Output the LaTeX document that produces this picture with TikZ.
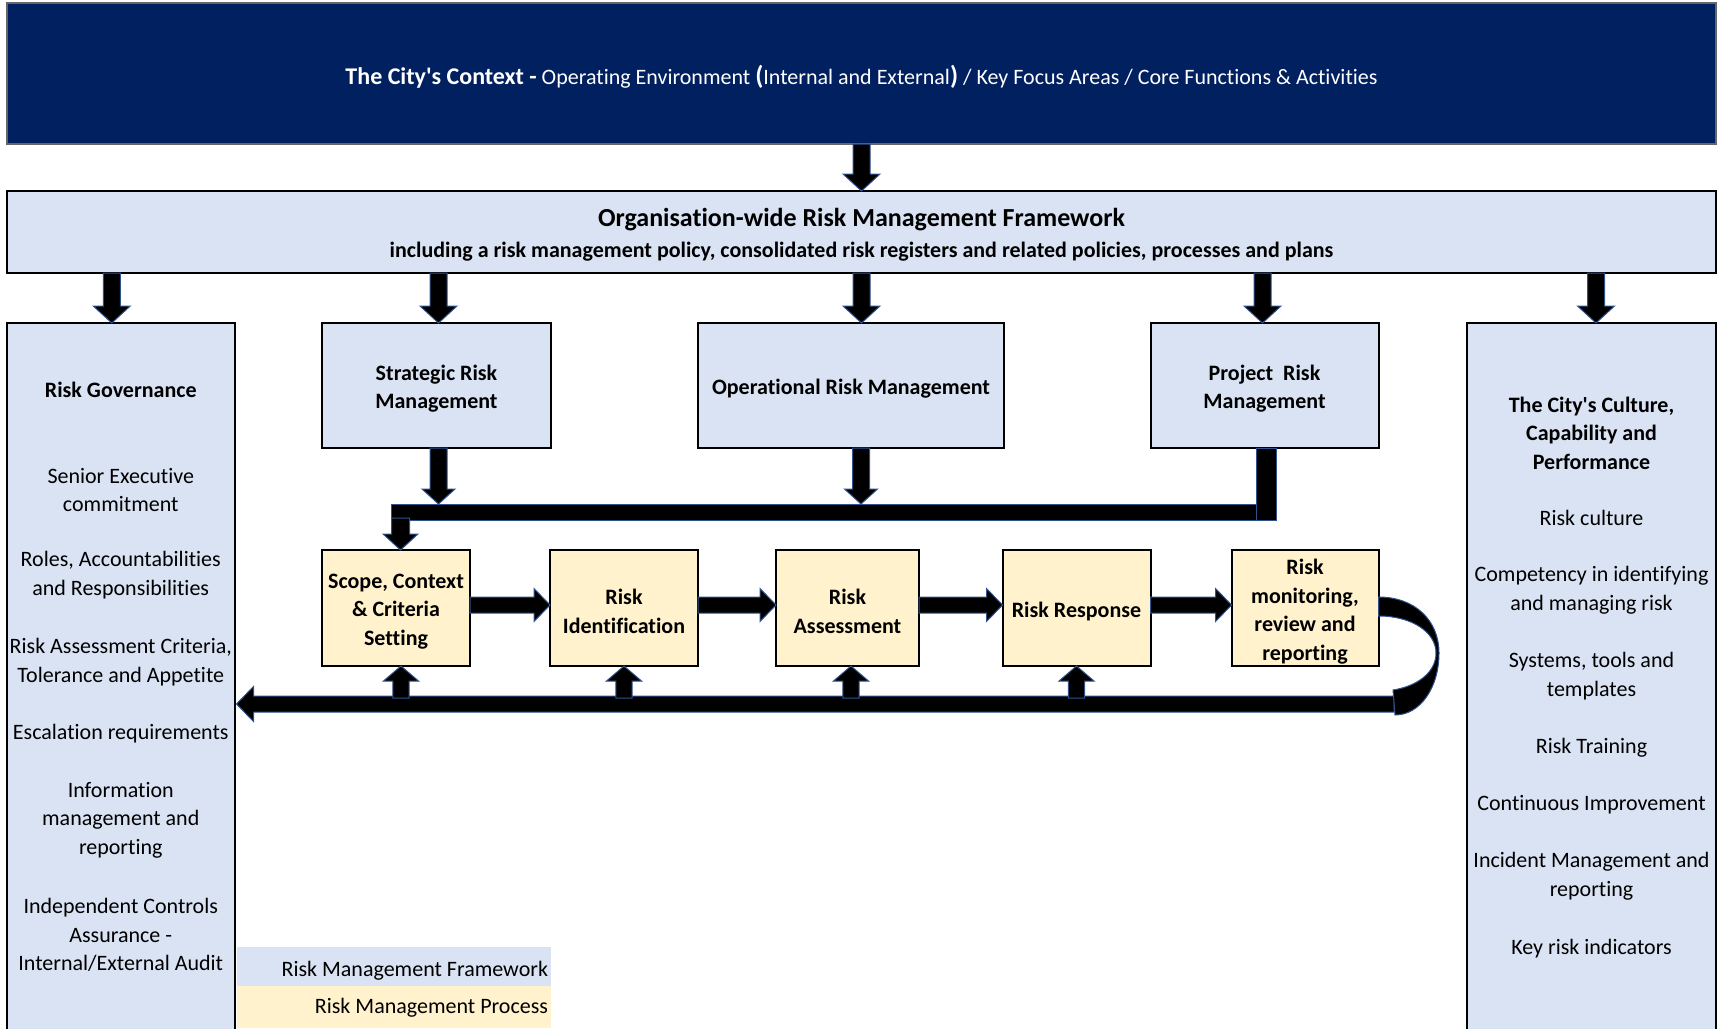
\documentclass[tikz,border=0pt]{standalone}
\usepackage{fontspec}
\setmainfont{Carlito}[Ligatures={TeXOff,NoCommon}]
\usetikzlibrary{calc}
\definecolor{ctxnavy}{HTML}{002060}
\definecolor{fwblue}{HTML}{DAE3F3}
\definecolor{procyellow}{HTML}{FFF2CC}
\definecolor{arrowedge}{HTML}{2F528F}

\tikzset{
  wh/.style 2 args={minimum width=#1*0.5pt, minimum height=#2*0.5pt},
  panel/.style={draw=black, line width=1pt, fill=fwblue},
  procbox/.style={panel, fill=procyellow},
  boxtext/.style={align=center, font=\bfseries\fontsize{11}{14.25}\selectfont},
  coltext/.style={align=center, font=\fontsize{11}{14.25}\selectfont},
  colhead/.style={coltext, font=\bfseries\fontsize{11}{14.25}\selectfont},
  arrowfill/.style={fill=black, draw=arrowedge, line width=0.5pt, line join=miter},
  legendbox/.style={fill=#1, align=right, font=\fontsize{11}{12}\selectfont},
}

% Block arrow: start, tip, shaft half width, head half width, head length
\newcommand\blockarrow[5]{%
  \path (#1) coordinate (ba-s) (#2) coordinate (ba-t);
  \path ($(ba-t)!#5!(ba-s)$) coordinate (ba-h);
  \fill[arrowfill] ($(ba-s)!#3!90:(ba-t)$) -- ($(ba-h)!#3!90:(ba-t)$)
    -- ($(ba-h)!#4!90:(ba-t)$) -- (ba-t) -- ($(ba-h)!#4!-90:(ba-t)$)
    -- ($(ba-h)!#3!-90:(ba-t)$) -- ($(ba-s)!#3!-90:(ba-t)$) -- cycle;}

\begin{document}
\begin{tikzpicture}[x=0.5pt, y=-0.5pt, every node/.style={inner sep=0pt, outer sep=0pt}]
\useasboundingbox (0,0) rectangle (1718,1028);
\clip (0,0) rectangle (1718,1028);

% context banner
\node[draw=black!60, line width=0.75pt, fill=ctxnavy, wh={1709}{141}] (ctx) at (861.5,73.5) {};
\node[text=white, font=\fontsize{11}{12}\selectfont] (ctxtext) at (861.5,76.5)
  {{\bfseries\fontsize{12}{12}\selectfont The City's Context -} Operating Environment {\bfseries\fontsize{13}{12}\selectfont(}Internal and External{\bfseries\fontsize{13}{12}\selectfont)} / Key Focus Areas / Core Functions \& Activities};

% framework banner
\node[panel, wh={1709}{82}] (frame) at (861.5,232) {};
\node[font=\bfseries\fontsize{13}{14}\selectfont] (fwtitle) at (861.5,220) {Organisation-wide Risk Management Framework};
\node[font=\bfseries\fontsize{11}{12}\selectfont] (fwsub) at (861.5,252) {including a risk management policy, consolidated risk registers and related policies, processes and plans};

% side columns
\node[panel, wh={227.5}{720}, anchor=north] (gov) at (120.75,323) {};
\node[panel, wh={249}{720}, anchor=north] (cult) at (1591.5,323) {};

% framework boxes
\node[panel, wh={229}{125}] (strat) at (436.5,385.5) {};
\node[panel, wh={306}{125}] (op) at (851,385.5) {};
\node[panel, wh={228}{125}] (proj) at (1264.5,385.5) {};
\node[boxtext] (strat-t) at ([yshift=-1.65pt]strat.center) {Strategic Risk\\Management};
\node[boxtext] (op-t) at ([yshift=-1.65pt]op.center) {Operational Risk Management};
\node[boxtext] (proj-t) at ([yshift=-1.65pt]proj.center) {Project~~Risk\\Management};

% process boxes
\node[procbox, wh={148}{116}] (scope) at (396,608) {};
\node[procbox, wh={148}{116}] (ident) at (624,608) {};
\node[procbox, wh={143}{116}] (assess) at (847.5,608) {};
\node[procbox, wh={148}{116}] (resp) at (1076.5,608) {};
\node[procbox, wh={147}{116}] (mon) at (1305,608) {};
\node[boxtext] (scope-t) at ([yshift=-1.8pt]scope.center) {Scope, Context\\\& Criteria\\Setting};
\node[boxtext] (ident-t) at ([yshift=-1.8pt]ident.center) {Risk\\Identification};
\node[boxtext] (assess-t) at ([yshift=-1.8pt]assess.center) {Risk\\Assessment};
\node[boxtext] (resp-t) at ([yshift=-1.8pt]resp.center) {Risk Response};
\node[boxtext] (mon-t) at ([yshift=-1.8pt]mon.center) {Risk\\monitoring,\\review and\\reporting};

% governance column text
\node[colhead] (g1) at (120.75,390) {Risk Governance};
\node[coltext] (g2) at (120.75,490) {Senior Executive\\commitment};
\node[coltext] (g3) at (120.75,575) {Roles, Accountabilities\\and Responsibilities};
\node[coltext] (g4) at (120.75,662) {Risk Assessment Criteria,\\Tolerance and Appetite};
\node[coltext] (g5) at (120.75,734) {Escalation requirements};
\node[coltext] (g6) at (120.75,820) {Information\\management and\\reporting};
\node[coltext] (g7) at (120.75,935) {Independent Controls\\Assurance -\\Internal/External Audit};

% culture column text
\node[colhead] (c1) at (1591.5,433) {The City's Culture,\\Capability and\\Performance};
\node[coltext] (c2) at (1591.5,518) {Risk culture};
\node[coltext] (c3) at (1591.5,590) {Competency in identifying\\and managing risk};
\node[coltext] (c4) at (1591.5,676) {Systems, tools and\\templates};
\node[coltext] (c5) at (1591.5,748) {Risk Training};
\node[coltext] (c6) at (1591.5,805) {Continuous Improvement};
\node[coltext] (c7) at (1591.5,876) {Incident Management and\\reporting};
\node[coltext] (c8) at (1591.5,949) {Key risk indicators};

% legend
\node[legendbox=fwblue, wh={314}{39}, anchor=north west] (legfw) at (237,947) {};
\node[legendbox=procyellow, wh={314}{42}, anchor=north west] (legproc) at (237,986) {};
\node[font=\fontsize{11}{12}\selectfont, anchor=east] (legfw-t) at ([xshift=-1.5pt,yshift=-2pt]legfw.east) {Risk Management Framework};
\node[font=\fontsize{11}{12}\selectfont, anchor=east] (legproc-t) at ([xshift=-1.5pt,yshift=-0.5pt]legproc.east) {Risk Management Process};

% context to framework
\blockarrow{ctx.south}{frame.north}{4.25pt}{9.25pt}{8.5pt}

% framework to its five parts
\blockarrow{$(gov.north |- frame.south)+(-9,0)$}{$(gov.north)+(-9,0)$}{4.25pt}{9.25pt}{8.5pt}
\blockarrow{$(strat.north |- frame.south)+(2,0)$}{$(strat.north)+(2,0)$}{4.25pt}{9.25pt}{8.5pt}
\blockarrow{frame.south}{frame.south |- op.north}{4.25pt}{9.25pt}{8.5pt}
\blockarrow{$(proj.north |- frame.south)+(-2,0)$}{$(proj.north)+(-2,0)$}{4.25pt}{9.25pt}{8.5pt}
\blockarrow{$(cult.north |- frame.south)+(4.5,0)$}{$(cult.north)+(4.5,0)$}{4.25pt}{9.25pt}{8.5pt}

% collecting bar into the process
\node[arrowfill, wh={885}{16}, anchor=north west] (bus) at (391,504) {};
\blockarrow{$(strat.south)+(2,0)$}{$(strat.south |- bus.north)+(2,0)$}{4.25pt}{8.25pt}{7.5pt}
\blockarrow{$(op.south)+(10,0)$}{$(op.south |- bus.north)+(10,0)$}{4.25pt}{8.25pt}{7.5pt}
\fill[arrowfill] ($(proj.south)+(-8.5,0)$) rectangle (bus.south east);
\blockarrow{$(scope.north |- bus.south)+(4.5,-2)$}{$(scope.north)+(4.5,0)$}{4.5pt}{8.7pt}{8pt}

% process flow
\blockarrow{$(scope.east)+(0,-3)$}{$(ident.west)+(0,-3)$}{4pt}{8.25pt}{8pt}
\blockarrow{$(ident.east)+(0,-3)$}{$(assess.west)+(0,-3)$}{4pt}{8.25pt}{8pt}
\blockarrow{$(assess.east)+(0,-3)$}{$(resp.west)+(0,-3)$}{4pt}{8.25pt}{8pt}
\blockarrow{$(resp.east)+(0,-3)$}{$(mon.west)+(0,-3)$}{4pt}{8.25pt}{8pt}

% feedback loop: return bar and the crescent-shaped bend out of the last step
\coordinate (loopend) at (1394,704);
\coordinate (bendout) at (1439,653);
\coordinate (bendin) at (1436,653);
\blockarrow{loopend}{$(gov.east |- loopend)+(2,0)$}{4pt}{8.75pt}{8.5pt}
\fill[arrowfill] ($(mon.east)+(0,-11)$) .. controls +(36,0) and +(0,-33) .. (bendout)
  .. controls +(0,35) and +(25,0) .. ($(loopend)+(1,11)$)
  -- ($(loopend)+(-1,-14)$) .. controls +(25,-4) and +(0,19) .. (bendin)
  .. controls +(0,-21) and +(33,0) .. ($(mon.east)+(0,8)$) -- cycle;
\blockarrow{$(scope.south |- loopend)+(5,-6)$}{$(scope.south)+(5,0)$}{4.1pt}{8.75pt}{7.5pt}
\blockarrow{$(ident.south |- loopend)+(0,-6)$}{ident.south}{4.1pt}{8.75pt}{7.5pt}
\blockarrow{$(assess.south |- loopend)+(3.5,-6)$}{$(assess.south)+(3.5,0)$}{4.1pt}{8.75pt}{7.5pt}
\blockarrow{$(resp.south |- loopend)+(0,-6)$}{resp.south}{4.1pt}{8.75pt}{7.5pt}
\end{tikzpicture}
\end{document}
